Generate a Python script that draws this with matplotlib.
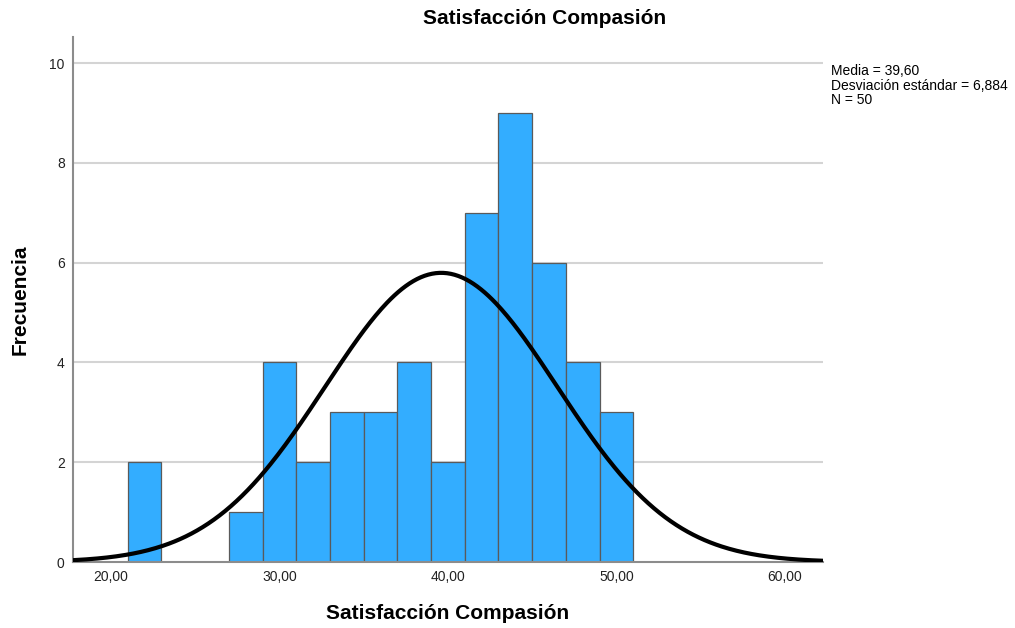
"Histogram of Satisfaccion Compasion with a fitted normal curve"

import matplotlib.pyplot as plt
import numpy as np

plt.rcParams['font.family'] = ['Liberation Sans', 'DejaVu Sans']

# Bin edges and counts
bin_left = [21, 27, 29, 31, 33, 35, 37, 39, 41, 43, 45, 47, 49]
counts = [2, 1, 4, 2, 3, 3, 4, 2, 7, 9, 6, 4, 3]
bin_width = 2
mean = 39.60
std = 6.884
n = 50

xticks = [20, 30, 40, 50, 60]
xticklabels = ["20,00", "30,00", "40,00", "50,00", "60,00"]
yticks = [0, 2, 4, 6, 8, 10]

fig = plt.figure(figsize=(10.15, 6.28), dpi=100)
ax = fig.add_axes([0.0719, 0.105, 0.739, 0.836])

# Gridlines behind the bars
for y in yticks[1:]:
    ax.axhline(y, color="#d4d4d4", linewidth=1.5, zorder=0)

ax.bar(bin_left, counts, width=bin_width, align="edge",
       color="#33adff", edgecolor="#5a5a5a", linewidth=0.9, zorder=2)

# Normal curve scaled to the histogram
xmin, xmax = 17.75, 62.26
xs = np.linspace(xmin, xmax, 400)
pdf = np.exp(-0.5 * ((xs - mean) / std) ** 2) / (std * np.sqrt(2 * np.pi))
ax.plot(xs, n * bin_width * pdf, color="black", linewidth=3, zorder=3)

ax.set_xlim(xmin, xmax)
ax.set_ylim(0, 10.52)
ax.set_xticks(xticks)
ax.set_xticklabels(xticklabels)
ax.set_yticks(yticks)
ax.tick_params(length=0, labelsize=10, colors="#222222", pad=6)

for side in ["top", "right"]:
    ax.spines[side].set_visible(False)
for side in ["left", "bottom"]:
    ax.spines[side].set_color("#8c8c8c")
    ax.spines[side].set_linewidth(1.5)

fig.text(0.5365, 0.971, "Satisfacción Compasión", fontsize=15,
         fontweight="bold", ha="center", va="center")
ax.set_xlabel("Satisfacción Compasión", fontsize=15, fontweight="bold", labelpad=14)
ax.set_ylabel("Frecuencia", fontsize=15, fontweight="bold", labelpad=14)

fig.text(0.819, 0.898,
         "Media = 39,60\nDesviación estándar = 6,884\nN = 50",
         fontsize=10, va="top", ha="left", linespacing=1.05)

plt.savefig("out.png")
